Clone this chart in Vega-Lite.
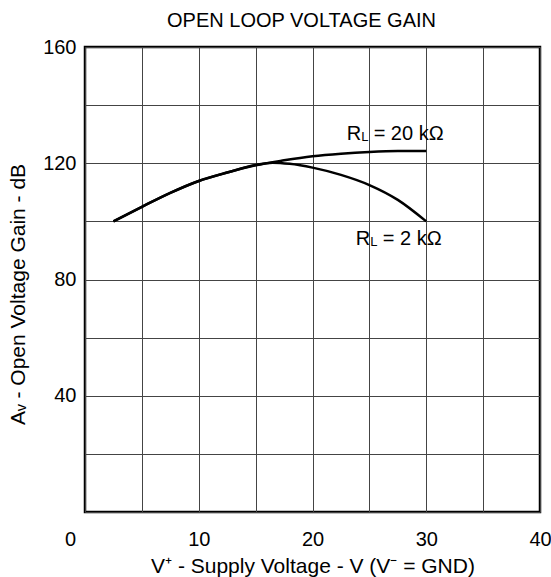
{
  "$schema": "https://vega.github.io/schema/vega-lite/v6.json",
  "width": 455,
  "height": 465,
  "autosize": {"type": "none"},
  "padding": {"left": 85, "top": 47, "right": 11, "bottom": 65},
  "background": "white",
  "config": {
    "font": "Liberation Sans",
    "view": {"stroke": "black", "strokeWidth": 2.5},
    "axis": {
      "labelFont": "Liberation Sans",
      "titleFont": "Liberation Sans",
      "labelFontSize": 20,
      "titleFontSize": 21,
      "titleFontWeight": "normal",
      "labelColor": "black",
      "titleColor": "black",
      "ticks": false,
      "domain": false,
      "gridColor": "#444",
      "gridOpacity": 1,
      "gridWidth": 1
    }
  },
  "title": {
    "text": "OPEN LOOP VOLTAGE GAIN",
    "font": "Liberation Sans",
    "fontSize": 20,
    "fontWeight": "normal",
    "color": "black",
    "offset": 6,
    "dx": -11
  },
  "datasets": {
    "curves": [
      {"v": 2.5, "gain": 100, "series": "RL = 2 kΩ"},
      {"v": 5, "gain": 105, "series": "RL = 2 kΩ"},
      {"v": 7.5, "gain": 109.8, "series": "RL = 2 kΩ"},
      {"v": 10, "gain": 113.9, "series": "RL = 2 kΩ"},
      {"v": 12.5, "gain": 116.8, "series": "RL = 2 kΩ"},
      {"v": 15, "gain": 119.4, "series": "RL = 2 kΩ"},
      {"v": 16.5, "gain": 120.2, "series": "RL = 2 kΩ"},
      {"v": 18, "gain": 119.8, "series": "RL = 2 kΩ"},
      {"v": 20, "gain": 118.5, "series": "RL = 2 kΩ"},
      {"v": 22.5, "gain": 116, "series": "RL = 2 kΩ"},
      {"v": 25, "gain": 112.5, "series": "RL = 2 kΩ"},
      {"v": 27.5, "gain": 107.4, "series": "RL = 2 kΩ"},
      {"v": 30, "gain": 100, "series": "RL = 2 kΩ"},
      {"v": 2.5, "gain": 100, "series": "RL = 20 kΩ"},
      {"v": 5, "gain": 105, "series": "RL = 20 kΩ"},
      {"v": 7.5, "gain": 109.8, "series": "RL = 20 kΩ"},
      {"v": 10, "gain": 113.9, "series": "RL = 20 kΩ"},
      {"v": 12.5, "gain": 116.8, "series": "RL = 20 kΩ"},
      {"v": 15, "gain": 119.3, "series": "RL = 20 kΩ"},
      {"v": 17.5, "gain": 121, "series": "RL = 20 kΩ"},
      {"v": 20, "gain": 122.4, "series": "RL = 20 kΩ"},
      {"v": 22.5, "gain": 123.3, "series": "RL = 20 kΩ"},
      {"v": 25, "gain": 123.9, "series": "RL = 20 kΩ"},
      {"v": 27.5, "gain": 124.2, "series": "RL = 20 kΩ"},
      {"v": 30, "gain": 124.2, "series": "RL = 20 kΩ"}
    ],
    "labels": [
      {"v": 23.0, "gain": 129.9, "rest": "= 20 kΩ"},
      {"v": 23.8, "gain": 93.8, "rest": "= 2 kΩ"}
    ]
  },
  "layer": [
    {
      "data": {"name": "curves"},
      "mark": {"type": "line", "color": "black", "strokeWidth": 2.5, "interpolate": "monotone"},
      "encoding": {
        "x": {
          "field": "v", "type": "quantitative",
          "scale": {"domain": [0, 40], "nice": false, "zero": false},
          "axis": {
            "title": "V⁺ - Supply Voltage - V (V⁻ = GND)",
            "values": [0, 5, 10, 15, 20, 25, 30, 35, 40],
            "labelExpr": "datum.value % 10 == 0 ? datum.label : ''",
            "labelPadding": 17,
            "titlePadding": 6,
            "labelFlush": false,
            "labelOverlap": false,
            "labelOffset": {"condition": {"test": "datum.value == 0", "value": -15}, "value": 0}
          }
        },
        "y": {
          "field": "gain", "type": "quantitative",
          "scale": {"domain": [0, 160], "nice": false},
          "axis": {
            "title": "Aᵥ - Open Voltage Gain - dB",
            "values": [0, 20, 40, 60, 80, 100, 120, 140, 160],
            "labelExpr": "datum.value % 40 == 0 && datum.value > 0 ? datum.label : ''",
            "labelPadding": 9,
            "titlePadding": 14,
            "titleY": 247,
            "labelFlush": false,
            "labelOverlap": false
          }
        },
        "detail": {"field": "series"}
      }
    },
    {
      "data": {"name": "labels"},
      "mark": {"type": "text", "text": "R", "align": "left", "baseline": "middle", "fontSize": 20, "color": "black"},
      "encoding": {
        "x": {"field": "v", "type": "quantitative"},
        "y": {"field": "gain", "type": "quantitative"}
      }
    },
    {
      "data": {"name": "labels"},
      "mark": {"type": "text", "text": "L", "align": "left", "baseline": "middle", "fontSize": 13, "dx": 14.5, "dy": 3, "color": "black"},
      "encoding": {
        "x": {"field": "v", "type": "quantitative"},
        "y": {"field": "gain", "type": "quantitative"}
      }
    },
    {
      "data": {"name": "labels"},
      "mark": {"type": "text", "align": "left", "baseline": "middle", "fontSize": 20, "dx": 27, "color": "black"},
      "encoding": {
        "x": {"field": "v", "type": "quantitative"},
        "y": {"field": "gain", "type": "quantitative"},
        "text": {"field": "rest"}
      }
    }
  ]
}
